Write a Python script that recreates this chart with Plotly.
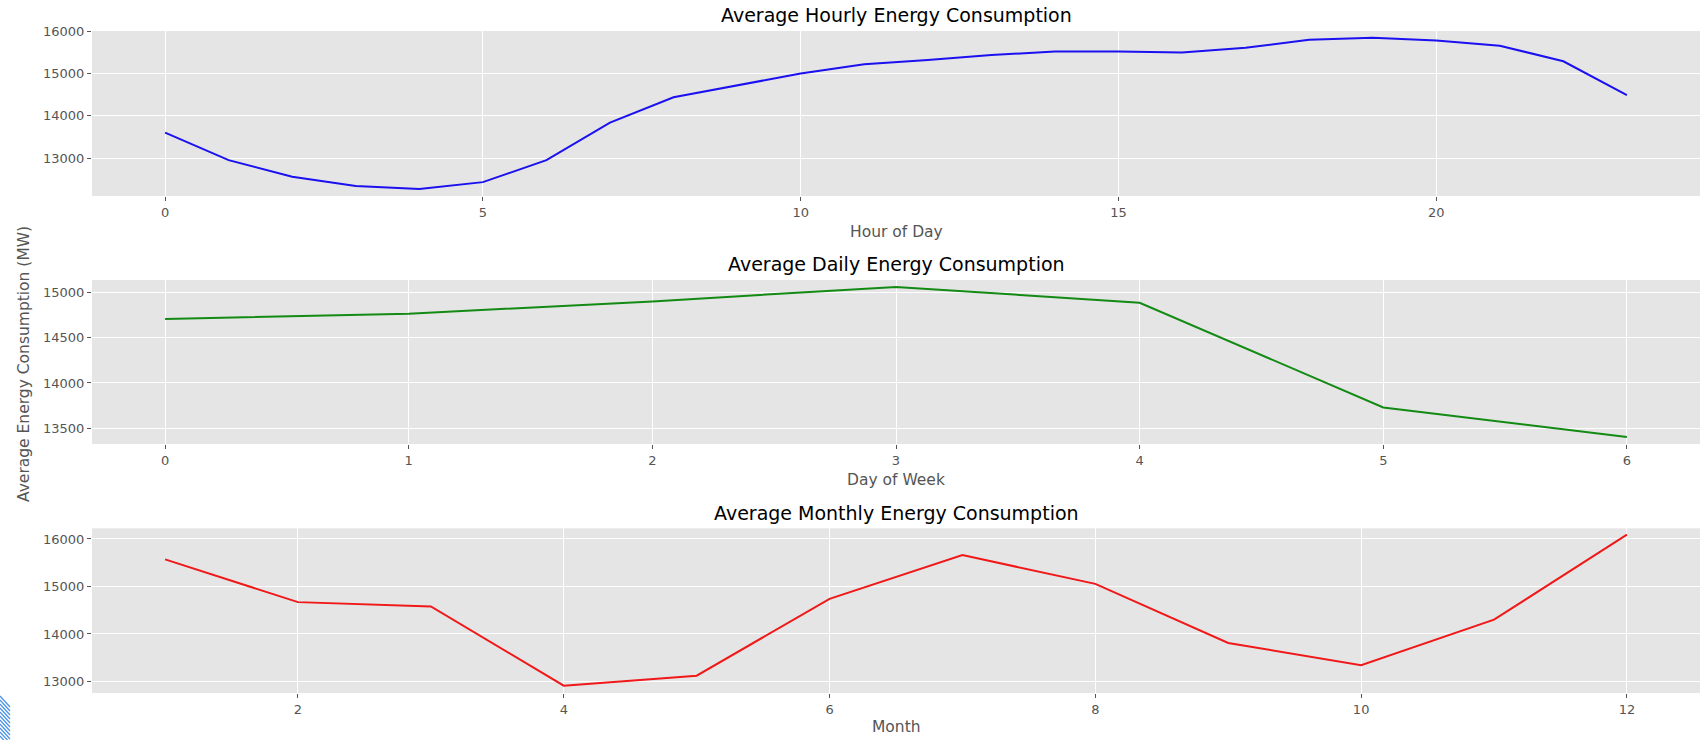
import plotly.graph_objects as go
from plotly.subplots import make_subplots

# ---- data ----
hours = list(range(24))
hourly_mw = [13600, 12950, 12560, 12340, 12270, 12430, 12950, 13840, 14440, 14720,
             15000, 15220, 15320, 15440, 15520, 15520, 15500, 15610, 15800, 15850,
             15780, 15660, 15290, 14490]
days = list(range(7))
daily_mw = [14705, 14765, 14900, 15060, 14885, 13730, 13405]
months = list(range(1, 13))
monthly_mw = [15570, 14670, 14580, 12910, 13120, 14740, 15660, 15055, 13810, 13340, 14300, 16090]

titles = ["Average Hourly Energy Consumption", "Average Daily Energy Consumption",
          "Average Monthly Energy Consumption"]
x_titles = ["Hour of Day", "Day of Week", "Month"]
y_title = "Average Energy Consumption (MW)"
x_ticks = [[0, 5, 10, 15, 20], [0, 1, 2, 3, 4, 5, 6], [2, 4, 6, 8, 10, 12]]
y_ticks = [[13000, 14000, 15000, 16000], [13500, 14000, 14500, 15000], [13000, 14000, 15000, 16000]]

# ---- layout constants ----
W, H = 1704, 740
ML, MR, MT, MB = 92, 4, 31, 47
PH = H - MT - MB
PW = W - ML - MR
FONT = "DejaVu Sans"
TICK_C = "#555555"


def py(pix):
    return (H - MB - pix) / PH


def px(pix):
    return (pix - ML) / PW


fig = make_subplots(rows=3, cols=1)
series = [(hours, hourly_mw, "#1a10f0"), (days, daily_mw, "#138a13"), (months, monthly_mw, "#F01818")]
for i, (xs, ys, c) in enumerate(series):
    fig.add_trace(go.Scatter(x=xs, y=ys, mode="lines", line=dict(color=c, width=2),
                             showlegend=False, hoverinfo="x+y"), row=i + 1, col=1)

domains = [[py(196), 1.0], [py(444), py(280)], [0.0, py(528.3)]]
x_ranges = [[-1.15, 24.15], [-0.3, 6.3], [0.45, 12.55]]
y_ranges = [[12102, 16007], [13327, 15136], [12756, 16225]]

for i in range(3):
    sx = "xaxis" if i == 0 else f"xaxis{i+1}"
    sy = "yaxis" if i == 0 else f"yaxis{i+1}"
    common = dict(showgrid=True, gridcolor="white", gridwidth=1, zeroline=False, showline=False,
                  ticks="outside", ticklen=4, tickwidth=1, tickcolor=TICK_C, tickformat="d",
                  tickfont=dict(family=FONT, size=13, color=TICK_C))
    fig.layout[sx].update(range=x_ranges[i], tickvals=x_ticks[i], **common)
    fig.layout[sy].update(range=y_ranges[i], tickvals=y_ticks[i], domain=domains[i], **common)

annotations = []
title_y = [15.2, 264, 512.5]
xt_y = [231.7, 480, 727]
for i in range(3):
    annotations.append(dict(text=titles[i], x=0.5, y=py(title_y[i]), xref="paper", yref="paper",
                            xanchor="center", yanchor="middle", showarrow=False,
                            font=dict(family=FONT, size=19, color="black")))
    annotations.append(dict(text=x_titles[i], x=0.5, y=py(xt_y[i]), xref="paper", yref="paper",
                            xanchor="center", yanchor="middle", showarrow=False,
                            font=dict(family=FONT, size=15.5, color=TICK_C)))
annotations.append(dict(text=y_title, x=px(24), y=py(364), xref="paper", yref="paper",
                        xanchor="center", yanchor="middle", textangle=-90, showarrow=False,
                        font=dict(family=FONT, size=15.5, color=TICK_C)))

# decorative hatch in the bottom-left corner of the screenshot
shapes = []
for k in range(11):
    y0 = 696 + 4 * k
    shapes.append(dict(type="line", xref="paper", yref="paper",
                       x0=px(0), y0=py(y0), x1=px(10), y1=py(y0 + 11),
                       line=dict(color="#4a92e4", width=1.2)))

fig.update_layout(width=W, height=H, margin=dict(l=ML, r=MR, t=MT, b=MB, autoexpand=False),
                  paper_bgcolor="white", plot_bgcolor="#E5E5E5",
                  font=dict(family=FONT), annotations=annotations, shapes=shapes, showlegend=False)

fig.write_html("out.html", config={"displayModeBar": False},
               post_script="document.body.style.margin='0';document.body.style.overflow='hidden';")
